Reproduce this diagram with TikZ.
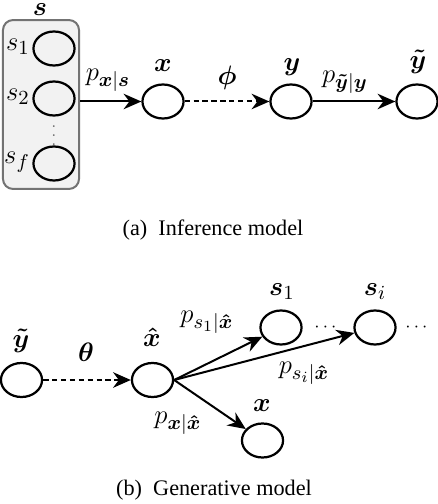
\documentclass[tikz,border=0pt]{standalone}
\usepackage{amsmath}
\usepackage{fontspec}
\usetikzlibrary{shapes.geometric, arrows.meta}
\newfontfamily\capfont{Liberation Serif}
\DeclareMathSizes{12}{12}{9}{7}

\begin{document}
\begin{tikzpicture}[
  x=0.45pt, y=-0.45pt,
  font=\large,
  var/.style={draw, ellipse, line width=1pt, minimum width=18.5pt, minimum height=15.3pt, inner sep=0pt},
  lbl/.style={inner sep=1pt},
  group/.style={draw=black!55, fill=black!5, rounded corners=4.5pt, line width=0.9pt,
                minimum width=34.2pt, minimum height=76pt, inner sep=0pt},
  flow/.style={-{Stealth[length=8pt, width=7pt]}, line width=0.9pt},
  param/.style={flow, dash pattern=on 2.4pt off 1.6pt},
  caption/.style={font=\capfont\normalsize},
]
\useasboundingbox (0,0) rectangle (438,504);
% inference model
\node[group] (sbox) at (41,104.5) {};
\node[lbl] (slab) at (40,10) {$\boldsymbol{s}$};
\node[var] (s1) at (54,48.5) {};
\node[var] (s2) at (54,98.5) {};
\node[var] (sf) at (54,163.5) {};
\node[lbl] (s1lab) at (18,47) {$s_1$};
\node[lbl] (s2lab) at (18,97) {$s_2$};
\node[lbl] (sflab) at (17,162) {$s_f$};
\node[lbl, font=\scriptsize, black!60] (sdots) at (54,129) {$\vdots$};
\node[var] (x) at (163,101.5) {};
\node[var] (y) at (291,101.5) {};
\node[var] (yt) at (417,101.5) {};
\node[lbl] (xlab) at (163,66) {$\boldsymbol{x}$};
\node[lbl] (ylab) at (292,67) {$\boldsymbol{y}$};
\node[lbl] (ytlab) at (418,62) {$\boldsymbol{\tilde{y}}$};
\draw[flow] (sbox.east |- x) -- (x);
\draw[param] (x) -- (y);
\draw[flow] (y) -- (yt);
\node[lbl] (pxs) at (108,80) {$p_{\boldsymbol{x}|\boldsymbol{s}}$};
\node[lbl] (phi) at (227,78) {$\boldsymbol{\phi}$};
\node[lbl] (pyy) at (345,82) {$p_{\boldsymbol{\tilde{y}}|\boldsymbol{y}}$};
\node[caption] (capa) at (213,230) {(a)~~Inference model};
% generative model
\node[var] (ytg) at (21.5,380) {};
\node[var] (xh) at (152.5,380) {};
\node[var] (gs1) at (281,327.5) {};
\node[var] (gsi) at (375,327.5) {};
\node[var] (gx) at (262.5,440.5) {};
\node[lbl] (ytglab) at (21,341) {$\boldsymbol{\tilde{y}}$};
\node[lbl] (xhlab) at (152,337) {$\boldsymbol{\hat{x}}$};
\node[lbl] (gs1lab) at (282,292) {$\boldsymbol{s}_1$};
\node[lbl] (gsilab) at (375,292) {$\boldsymbol{s}_i$};
\node[lbl] (gxlab) at (262,406) {$\boldsymbol{x}$};
\node[lbl, font=\footnotesize] (dots1) at (327,327) {$\cdots$};
\node[lbl, font=\footnotesize] (dots2) at (418,327) {$\cdots$};
\draw[param] (ytg) -- (xh);
\draw[flow] (xh.east) -- (gs1);
\draw[flow] (xh.east) -- (gsi);
\draw[flow] (xh.east) -- (gx);
\node[lbl] (theta) at (86,352) {$\boldsymbol{\theta}$};
\node[lbl] (ps1) at (207,322) {$p_{s_1|\boldsymbol{\hat{x}}}$};
\node[lbl] (psi) at (304,373) {$p_{s_i|\boldsymbol{\hat{x}}}$};
\node[lbl] (pxx) at (178,423) {$p_{\boldsymbol{x}|\boldsymbol{\hat{x}}}$};
\node[caption] (capb) at (214,490) {(b)~~Generative model};
\end{tikzpicture}
\end{document}
